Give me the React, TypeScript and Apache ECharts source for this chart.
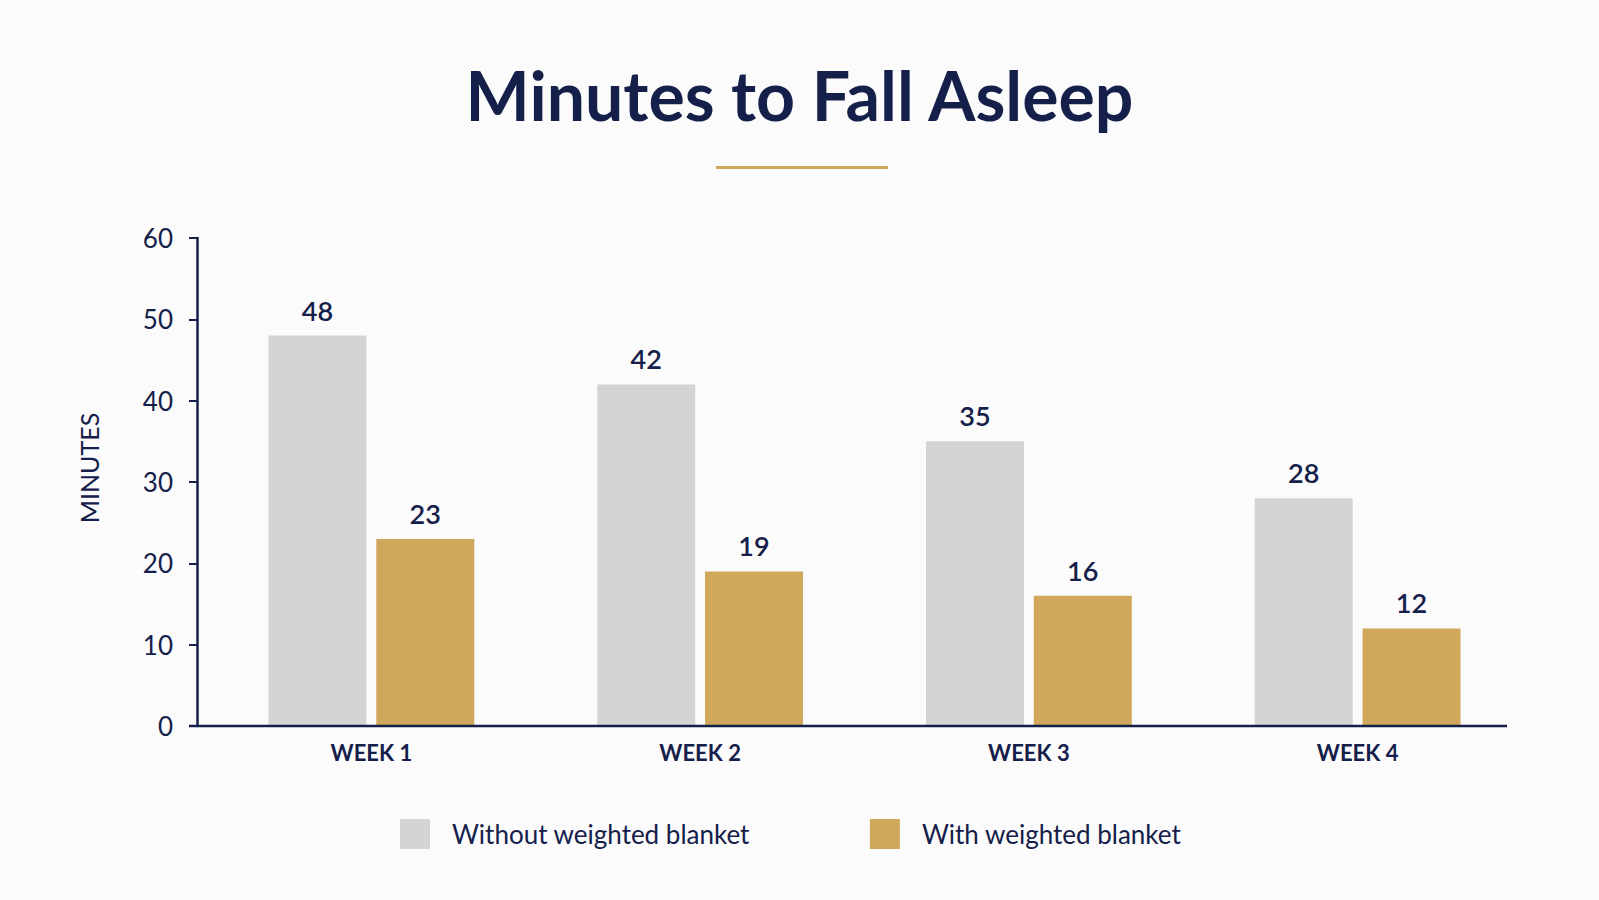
import * as echarts from 'echarts';
import { useEffect, useRef } from 'react';

const weeks = ['WEEK 1', 'WEEK 2', 'WEEK 3', 'WEEK 4'];
const withoutBlanket = [48, 42, 35, 28];
const withBlanket = [23, 19, 16, 12];
const seriesNames = ['Without weighted blanket', 'With weighted blanket'];

const NAVY = '#14204a';
const GRAY = '#d4d4d4';
const GOLD = '#cfa85b';
const FONT = 'Lato, "Noto Sans", sans-serif';

const valueLabel = {
  show: true,
  position: 'top',
  distance: 12,
  color: NAVY,
  fontSize: 27,
  fontWeight: 600,
  fontFamily: FONT,
};

export default function App() {
  const container = useRef<HTMLDivElement | null>(null);

  useEffect(() => {
    if (!container.current) return;
    const chart = echarts.init(container.current, null, { renderer: 'svg' });
    chart.setOption({
      animation: false,
      backgroundColor: '#fbfbfb',
      textStyle: { fontFamily: FONT },
      title: {
        text: 'Minutes to Fall Asleep',
        left: 'center',
        top: 55,
        textStyle: { color: NAVY, fontSize: 68, fontWeight: 700, fontFamily: FONT },
      },
      graphic: [
        {
          type: 'rect',
          shape: { x: 716, y: 166, width: 172, height: 3 },
          style: { fill: GOLD },
        },
        {
          // x axis baseline, runs slightly past the y axis like the original
          type: 'line',
          z: 10,
          shape: { x1: 189, y1: 726, x2: 1507, y2: 726 },
          style: { stroke: NAVY, lineWidth: 2.5 },
        },
      ],
      legend: {
        data: seriesNames,
        left: 395,
        top: 814,
        itemWidth: 30,
        itemHeight: 30,
        itemGap: 120,
        icon: 'rect',
        textStyle: { color: NAVY, fontSize: 26, fontFamily: FONT, padding: [0, 0, 0, 17] },
      },
      grid: { left: 207, right: 77, top: 238, bottom: 174, containLabel: false },
      xAxis: {
        type: 'category',
        data: weeks,
        axisLine: { show: false },
        axisTick: { show: false },
        axisLabel: {
          color: NAVY,
          fontSize: 22,
          fontWeight: 700,
          margin: 15,
          fontFamily: FONT,
        },
      },
      yAxis: {
        type: 'value',
        min: 0,
        max: 60,
        interval: 10,
        offset: 10,
        name: 'MINUTES',
        nameLocation: 'middle',
        nameGap: 96,
        nameRotate: 90,
        nameTextStyle: {
          color: NAVY,
          fontSize: 25,
          fontFamily: FONT,
          padding: [0, 0, 0, 28],
        },
        axisLine: { show: true, lineStyle: { color: NAVY, width: 2.5 } },
        axisTick: { show: true, length: 8, lineStyle: { color: NAVY, width: 2 } },
        axisLabel: { color: NAVY, fontSize: 26, margin: 24, fontFamily: FONT },
        splitLine: { show: false },
      },
      series: [
        {
          name: seriesNames[0],
          type: 'bar',
          data: withoutBlanket,
          barWidth: 98,
          barGap: '10%',
          itemStyle: { color: GRAY },
          label: valueLabel,
        },
        {
          name: seriesNames[1],
          type: 'bar',
          data: withBlanket,
          barWidth: 98,
          itemStyle: { color: GOLD },
          label: valueLabel,
        },
      ],
    } as echarts.EChartsOption);
    return () => chart.dispose();
  }, []);

  return (
    <div
      ref={container}
      style={{ position: 'fixed', left: 0, top: 0, width: 1599, height: 900 }}
    />
  );
}
